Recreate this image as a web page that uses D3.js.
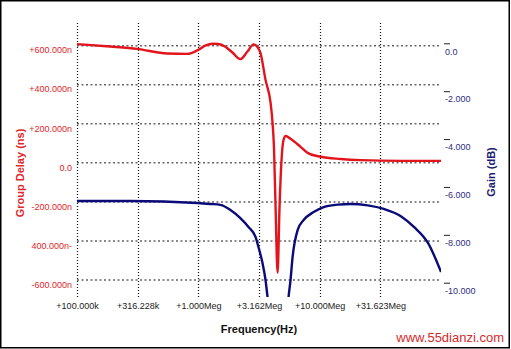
<!DOCTYPE html>
<html>
<head>
<meta charset="utf-8">
<script src="https://cdn.jsdelivr.net/npm/d3@7"></script>
<style>
  body { margin: 0; background: #fff; }
  svg { display: block; font-family: Arial, "Liberation Sans", sans-serif; }
</style>
</head>
<body>
<svg id="chart" width="511" height="349"></svg>
<script>
// x axis (frequency) ticks
const freqTicks = [1e5, 316228, 1e6, 3162278, 1e7, 31622777];
const freqTickLabels = ["+100.000k", "+316.228k", "+1.000Meg", "+3.162Meg", "+10.000Meg", "+31.623Meg"];

// left axis: group delay (ns)
const delayTicks = [600, 400, 200, 0, -200, -400, -600];
const delayTickLabels = ["+600.000n", "+400.000n", "+200.000n", "0.0", "-200.000n", "400.000n-", "-600.000n"];

// right axis: gain (dB)
const gainTicks = [0, -2, -4, -6, -8, -10];
const gainTickLabels = ["0.0", "-2.000", "-4.000", "-6.000", "-8.000", "-10.000"];

// group delay trace
const delayFreq = [1e5, 187.5e3, 313e3, 555e3, 811e3, 1.0e6, 1.14e6, 1.31e6, 1.46e6, 1.67e6,
  1.91e6, 2.22e6, 2.54e6, 2.85e6, 3.08e6, 3.25e6, 3.58e6, 3.94e6, 4.09e6, 4.2e6,
  4.33e6, 4.5e6, 4.67e6, 4.85e6, 5.04e6, 5.24e6, 5.75e6, 6.96e6, 7.96e6, 10.2e6,
  14.9e6, 21.8e6, 46.7e6, 1e8];
const delayNs = [608, 596, 584, 560, 558, 579, 600, 610, 609, 595,
  565, 531, 570, 607, 592, 563, 425, 307, 205, 80,
  -225, -563, -225, 15, 118, 138, 123, 82, 51, 31,
  20, 14, 10, 10];

// gain trace
const gainFreq = [1e5, 274e3, 982e3, 1.256e6, 1.52e6, 1.84e6, 2.22e6, 2.59e6, 2.96e6, 3.13e6,
  3.38e6, 3.58e6, 3.72e6, 3.94e6, 4.5e6, 5.33e6, 5.54e6, 5.75e6, 5.98e6, 6.58e6,
  7.38e6, 8.92e6, 10.8e6, 14.1e6, 18.0e6, 24.9e6, 33.8e6, 46.7e6, 59.8e6, 78.1e6, 1e8];
const gainDb = [-6.59, -6.59, -6.67, -6.71, -6.75, -6.96, -7.30, -7.67, -8.09, -8.51,
  -9.18, -9.89, -10.6, -11.5, -25, -11.5, -10.6, -9.89, -8.93, -7.80,
  -7.38, -7.05, -6.84, -6.74, -6.71, -6.77, -6.92, -7.22, -7.67, -8.34, -9.55];

const svg = d3.select("#chart");
const plotLeft = 77, plotRight = 441, plotTop = 23, plotBottom = 297;

const x = d3.scaleLog().domain([1e5, 1e8]).range([plotLeft, plotRight]);
const yDelay = d3.scaleLinear().domain([600, -600]).range([45.7, 280]);
const yGain = d3.scaleLinear().domain([0, -10]).range([43.3, 282.7]);

// frame
svg.append("rect")
  .attr("x", 0.75).attr("y", 0.75)
  .attr("width", 508.5).attr("height", 347)
  .attr("fill", "none").attr("stroke", "#000").attr("stroke-width", 1.5);

// horizontal grid
svg.append("g").selectAll("line")
  .data(delayTicks)
  .enter()
  .append("line")
  .attr("x1", plotLeft).attr("x2", plotRight)
  .attr("y1", d => yDelay(d)).attr("y2", d => yDelay(d))
  .attr("stroke", "#666")
  .attr("stroke-width", 1.5)
  .attr("stroke-dasharray", "2,2.5");

// vertical grid
svg.append("g").selectAll("line")
  .data(freqTicks)
  .enter()
  .append("line")
  .attr("x1", d => Math.round(x(d)) + 0.5).attr("x2", d => Math.round(x(d)) + 0.5)
  .attr("y1", plotTop).attr("y2", plotBottom)
  .attr("stroke", "#111")
  .attr("stroke-width", 1.2)
  .attr("stroke-dasharray", "1,2");

// x axis labels
const xAxis = svg.append("g")
  .attr("transform", `translate(0,${plotBottom})`)
  .call(d3.axisBottom(x).tickValues(freqTicks).tickSize(0).tickPadding(6)
    .tickFormat((d, i) => freqTickLabels[i]));
xAxis.select(".domain").remove();
xAxis.selectAll("text")
  .attr("font-size", 9).attr("font-family", "Arial, 'Liberation Sans', sans-serif")
  .attr("fill", "#222");

// left axis labels
const yAxisL = svg.append("g")
  .attr("transform", `translate(${plotLeft - 5},0)`)
  .call(d3.axisLeft(yDelay).tickValues(delayTicks).tickSize(0).tickPadding(0)
    .tickFormat((d, i) => delayTickLabels[i]));
yAxisL.select(".domain").remove();
yAxisL.selectAll("text")
  .attr("dy", 7.2)
  .attr("font-size", 9).attr("font-family", "Arial, 'Liberation Sans', sans-serif")
  .attr("fill", "#e0262a");

// right axis
const yAxisR = svg.append("g")
  .attr("transform", "translate(444,0)")
  .call(d3.axisRight(yGain).tickValues(gainTicks).tickSize(6).tickPadding(0)
    .tickFormat((d, i) => gainTickLabels[i]));
yAxisR.select(".domain").remove();
yAxisR.selectAll(".tick line").attr("stroke", "#222");
yAxisR.selectAll("text")
  .attr("x", 1).attr("dy", 10.8)
  .attr("font-size", 9).attr("font-family", "Arial, 'Liberation Sans', sans-serif")
  .attr("fill", "#2e2e82");

// clip to plot
svg.append("clipPath").attr("id", "plotClip")
  .append("rect")
  .attr("x", plotLeft).attr("y", plotTop)
  .attr("width", plotRight - plotLeft).attr("height", plotBottom - plotTop);

const gainData = gainFreq.map((f, i) => ({ f: f, v: gainDb[i] }));
const delayData = delayFreq.map((f, i) => ({ f: f, v: delayNs[i] }));

const gainLine = d3.line()
  .x(d => x(d.f))
  .y(d => yGain(d.v))
  .curve(d3.curveMonotoneX);

const delayLine = d3.line()
  .x(d => x(d.f))
  .y(d => yDelay(d.v))
  .curve(d3.curveMonotoneX);

const plot = svg.append("g").attr("clip-path", "url(#plotClip)");

plot.append("path")
  .datum(gainData)
  .attr("d", gainLine)
  .attr("fill", "none")
  .attr("stroke", "#0a0a78")
  .attr("stroke-width", 2.4);

plot.append("path")
  .datum(delayData)
  .attr("d", delayLine)
  .attr("fill", "none")
  .attr("stroke", "#e3141c")
  .attr("stroke-width", 2.4);

// titles
svg.append("text")
  .attr("x", 259).attr("y", 333)
  .attr("text-anchor", "middle")
  .attr("font-size", 11).attr("font-weight", "bold")
  .attr("fill", "#111")
  .text("Frequency(Hz)");

svg.append("text")
  .attr("transform", "translate(24,173) rotate(-90)")
  .attr("text-anchor", "middle")
  .attr("font-size", 11).attr("font-weight", "bold")
  .attr("fill", "#e0262a")
  .text("Group Delay (ns)");

svg.append("text")
  .attr("transform", "translate(495,172) rotate(-90)")
  .attr("text-anchor", "middle")
  .attr("font-size", 11).attr("font-weight", "bold")
  .attr("fill", "#1c1c72")
  .text("Gain (dB)");

// watermark
svg.append("text")
  .attr("x", 504).attr("y", 342)
  .attr("text-anchor", "end")
  .attr("font-size", 13)
  .attr("fill", "#d42a2a")
  .text("www.55dianzi.com");
</script>
</body>
</html>
